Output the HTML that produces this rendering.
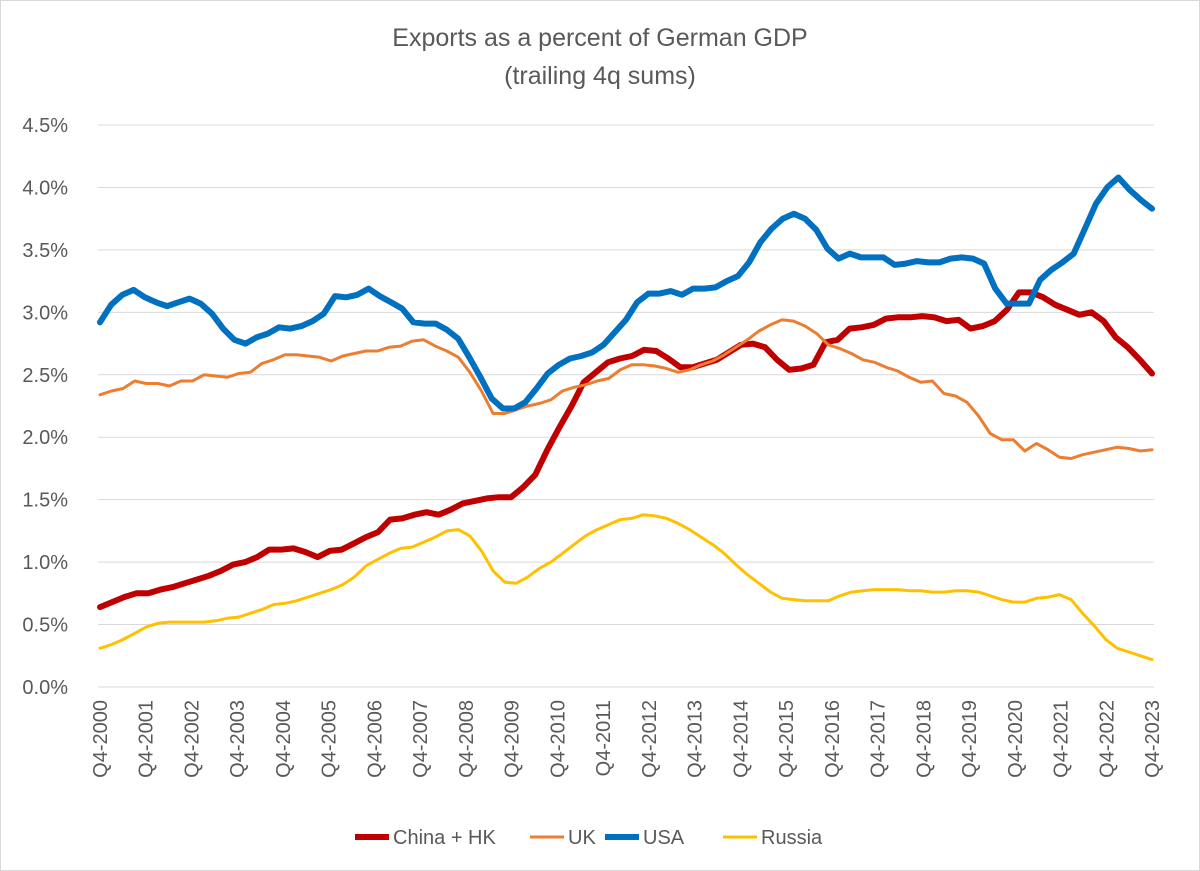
<!DOCTYPE html>
<html><head><meta charset="utf-8"><style>
html,body{margin:0;padding:0;background:#fff}
svg{display:block;font-family:"Liberation Sans",sans-serif}
</style></head><body>
<svg id="chart" width="1200" height="871">
<rect x="0.5" y="0.5" width="1199" height="870" fill="#fff" stroke="#d9d9d9"/>
<text x="600" y="46" text-anchor="middle" font-size="25" fill="#595959">Exports as a percent of German GDP</text>
<text x="600" y="84" text-anchor="middle" font-size="25" fill="#595959">(trailing 4q sums)</text>
<g id="grid"></g><g id="yticks"></g><g id="xticks"></g><g id="series"></g>
<g id="legend"></g>
</svg>
<script>
const yTicks=[0,0.5,1.0,1.5,2.0,2.5,3.0,3.5,4.0,4.5];
const xLabels=["Q4-2000","Q4-2001","Q4-2002","Q4-2003","Q4-2004","Q4-2005","Q4-2006","Q4-2007","Q4-2008","Q4-2009","Q4-2010","Q4-2011","Q4-2012","Q4-2013","Q4-2014","Q4-2015","Q4-2016","Q4-2017","Q4-2018","Q4-2019","Q4-2020","Q4-2021","Q4-2022","Q4-2023"];
const seriesNames=["China + HK","UK","USA","Russia"];
const china=[0.64,0.68,0.72,0.75,0.75,0.78,0.80,0.83,0.86,0.89,0.93,0.98,1.00,1.04,1.10,1.10,1.11,1.08,1.04,1.09,1.10,1.15,1.20,1.24,1.34,1.35,1.38,1.40,1.38,1.42,1.47,1.49,1.51,1.52,1.52,1.60,1.70,1.90,2.08,2.25,2.44,2.52,2.60,2.63,2.65,2.70,2.69,2.63,2.56,2.56,2.59,2.62,2.68,2.74,2.75,2.72,2.62,2.54,2.55,2.58,2.76,2.78,2.87,2.88,2.90,2.95,2.96,2.96,2.97,2.96,2.93,2.94,2.87,2.89,2.93,3.02,3.16,3.16,3.12,3.06,3.02,2.98,3.00,2.93,2.80,2.72,2.62,2.51];
const uk=[2.34,2.37,2.39,2.45,2.43,2.43,2.41,2.45,2.45,2.50,2.49,2.48,2.51,2.52,2.59,2.62,2.66,2.66,2.65,2.64,2.61,2.65,2.67,2.69,2.69,2.72,2.73,2.77,2.78,2.73,2.69,2.64,2.52,2.37,2.19,2.19,2.22,2.25,2.27,2.30,2.37,2.40,2.42,2.45,2.47,2.54,2.58,2.58,2.57,2.55,2.52,2.54,2.58,2.61,2.66,2.72,2.78,2.85,2.90,2.94,2.93,2.89,2.83,2.74,2.71,2.67,2.62,2.60,2.56,2.53,2.48,2.44,2.45,2.35,2.33,2.28,2.17,2.03,1.98,1.98,1.89,1.95,1.90,1.84,1.83,1.86,1.88,1.90,1.92,1.91,1.89,1.90];
const usa=[2.92,3.06,3.14,3.18,3.12,3.08,3.05,3.08,3.11,3.07,2.99,2.87,2.78,2.75,2.80,2.83,2.88,2.87,2.89,2.93,2.99,3.13,3.12,3.14,3.19,3.13,3.08,3.03,2.92,2.91,2.91,2.86,2.79,2.64,2.48,2.31,2.23,2.23,2.28,2.39,2.51,2.58,2.63,2.65,2.68,2.74,2.84,2.94,3.08,3.15,3.15,3.17,3.14,3.19,3.19,3.20,3.25,3.29,3.40,3.56,3.67,3.75,3.79,3.75,3.66,3.51,3.43,3.47,3.44,3.44,3.44,3.38,3.39,3.41,3.40,3.40,3.43,3.44,3.43,3.39,3.19,3.07,3.07,3.07,3.26,3.34,3.40,3.47,3.67,3.87,4.00,4.08,3.98,3.90,3.83];
const russia=[0.31,0.34,0.38,0.43,0.48,0.51,0.52,0.52,0.52,0.52,0.53,0.55,0.56,0.59,0.62,0.66,0.67,0.69,0.72,0.75,0.78,0.82,0.88,0.97,1.02,1.07,1.11,1.12,1.16,1.20,1.25,1.26,1.21,1.09,0.93,0.84,0.83,0.88,0.95,1.00,1.07,1.14,1.21,1.26,1.30,1.34,1.35,1.38,1.37,1.35,1.31,1.26,1.20,1.14,1.07,0.98,0.90,0.83,0.76,0.71,0.70,0.69,0.69,0.69,0.73,0.76,0.77,0.78,0.78,0.78,0.77,0.77,0.76,0.76,0.77,0.77,0.76,0.73,0.70,0.68,0.68,0.71,0.72,0.74,0.70,0.59,0.49,0.38,0.31,0.28,0.25,0.22];
const colors=["#c00000","#ed7d31","#0070c0","#ffc000"];
const widths=[6,3,6,3];
const NS="http://www.w3.org/2000/svg";
const X0=100,X1=1152,Y0=687,Y45=125;
const y=v=>Y0+(Y45-Y0)*v/4.5;
const xi=(i,n)=>X0+(X1-X0)*i/(n-1);
function mk(tag,attrs,parent){const e=document.createElementNS(NS,tag);for(const k in attrs)e.setAttribute(k,attrs[k]);parent.appendChild(e);return e;}
const grid=document.getElementById('grid'),yt=document.getElementById('yticks'),xt=document.getElementById('xticks'),sg=document.getElementById('series'),lg=document.getElementById('legend');
yTicks.forEach(v=>{
  const l=mk('line',{x1:X0-2,x2:X1+2,y1:y(v),y2:y(v),stroke:'#d9d9d9','stroke-width':1},grid);
  
  
  const t=mk('text',{x:68,y:y(v)+7,'text-anchor':'end','font-size':20,fill:'#595959'},yt);
  t.textContent=v.toFixed(1)+'%';
  
  
});
xLabels.forEach((s,i)=>{
  const x=xi(i,xLabels.length);
  const t=mk('text',{transform:`translate(${x+7},${700}) rotate(-90)`,'text-anchor':'end','font-size':20,fill:'#595959'},xt);
  t.textContent=s;
  
  
});
[china,uk,usa,russia].forEach((d,k)=>{
  const pts=d.map((v,i)=>xi(i,d.length).toFixed(1)+','+y(v).toFixed(1)).join(' ');
  const p=mk('polyline',{points:pts,fill:'none',stroke:colors[k],'stroke-width':widths[k],'stroke-linejoin':'round','stroke-linecap':'round'},sg);
  
  
});
const lx=[355,530,605,723];
seriesNames.forEach((s,k)=>{
  const l=mk('line',{x1:lx[k],x2:lx[k]+34,y1:837,y2:837,stroke:colors[k],'stroke-width':widths[k]},lg);
  
  
  const t=mk('text',{x:lx[k]+38,y:844,'font-size':20,fill:'#595959'},lg);
  t.textContent=s;
  
  
});
</script>
</body></html>
